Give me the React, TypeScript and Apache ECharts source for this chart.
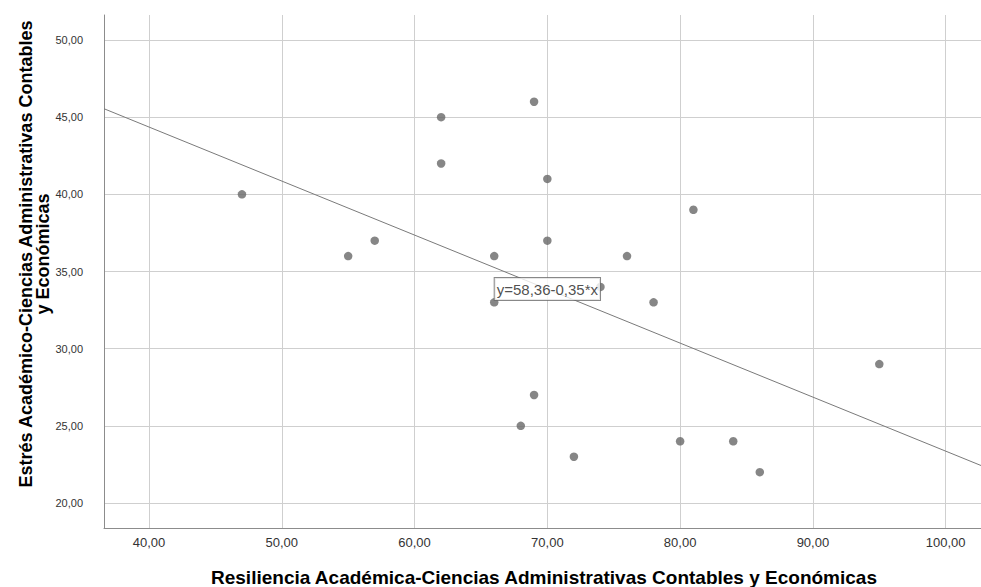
import React, { useEffect, useRef } from "react";
import * as echarts from "echarts";

const resiliencia: number[] = [47, 55, 57, 62, 62, 66, 66, 69, 70, 70, 76, 81, 74, 78, 69, 68, 72, 80, 84, 86, 95];
const estres: number[] = [40, 36, 37, 45, 42, 36, 33, 46, 41, 37, 36, 39, 34, 33, 27, 25, 23, 24, 24, 22, 29];
const intercept = 58.36;
const slope = -0.35;
const equationLabel = "y=58,36-0,35*x";
const equationAtX = 70;
const xRange = [36.61, 102.66];
const yRange = [18.38, 51.62];
const xTitle = "Resiliencia Académica-Ciencias Administrativas Contables y Económicas";
const yTitle = "Estrés Académico-Ciencias Administrativas Contables\ny Económicas";

const fmt = (v: number) => v.toFixed(2).replace(".", ",");
const FONT = '"Liberation Sans", Arial, sans-serif';

export default function App() {
  const ref = useRef<HTMLDivElement>(null);
  useEffect(() => {
    if (!ref.current) return;
    const chart = echarts.init(ref.current, null, { renderer: "svg" });
    const pts = resiliencia.map((x, i) => [x, estres[i]]);
    const lineEnds = xRange.map((x) => [x, intercept + slope * x]);
    chart.setOption({
      animation: false,
      backgroundColor: "#ffffff",
      grid: { left: 104, top: 15, right: 0, bottom: 59, outerBoundsMode: "none", containLabel: false },
      xAxis: {
        type: "value",
        min: xRange[0],
        max: xRange[1],
        axisLine: { show: true, onZero: false, lineStyle: { color: "#8c8c8c", width: 1 } },
        axisTick: { show: false },
        axisLabel: {
          margin: 8,
          color: "#333333",
          fontSize: 13,
          fontFamily: FONT,
          showMinLabel: false,
          showMaxLabel: false,
          formatter: (v: number) => (Math.abs(v % 10) < 1e-6 ? fmt(v) : ""),
        },
        splitLine: { show: true, showMinLine: false, showMaxLine: false, lineStyle: { color: "#cfcfcf", width: 1 } },
      },
      yAxis: {
        type: "value",
        min: yRange[0],
        max: yRange[1],
        axisLine: { show: true, onZero: false, lineStyle: { color: "#8c8c8c", width: 1 } },
        axisTick: { show: false },
        axisLabel: {
          margin: 21,
          color: "#333333",
          fontSize: 11,
          fontFamily: FONT,
          showMinLabel: false,
          showMaxLabel: false,
          formatter: (v: number) => (Math.abs(v % 5) < 1e-6 ? fmt(v) : ""),
        },
        splitLine: { show: true, showMinLine: false, showMaxLine: false, lineStyle: { color: "#cfcfcf", width: 1 } },
      },
      series: [
        {
          type: "line",
          data: lineEnds,
          symbol: "none",
          lineStyle: { color: "#7a7a7a", width: 1 },
          silent: true,
          z: 2,
        },
        {
          type: "scatter",
          data: pts,
          symbolSize: 8.5,
          itemStyle: { color: "#686868" },
          z: 3,
        },
        {
          type: "scatter",
          data: [[equationAtX, intercept + slope * equationAtX]],
          symbolSize: 0,
          z: 5,
          label: {
            show: true,
            position: "inside",
            formatter: equationLabel,
            color: "#222222",
            fontSize: 15,
            fontFamily: FONT,
            backgroundColor: "#ffffff",
            borderColor: "#6a6a6a",
            borderWidth: 1,
            padding: [4, 2, 3, 2],
          },
        },
      ],
      graphic: [
        {
          type: "text",
          x: 544,
          y: 577,
          style: {
            text: xTitle,
            align: "center",
            verticalAlign: "middle",
            font: `bold 19px ${FONT}`,
            fill: "#000000",
          },
        },
        {
          type: "text",
          x: 34,
          y: 254,
          rotation: Math.PI / 2,
          style: {
            text: yTitle,
            align: "center",
            verticalAlign: "middle",
            font: `bold 18px ${FONT}`,
            lineHeight: 17,
            fill: "#000000",
          },
        },
      ],
    });
    return () => chart.dispose();
  }, []);
  return <div ref={ref} style={{ width: 981, height: 587, position: "absolute", left: 0, top: 0 }} />;
}
